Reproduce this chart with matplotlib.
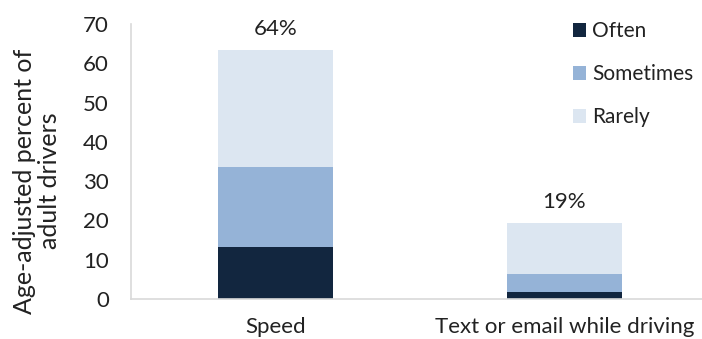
import matplotlib
matplotlib.use('Agg')
import matplotlib.pyplot as plt
import numpy as np

categories = ['Speed', 'Text or email while driving']
often = [13.2, 1.7]
sometimes = [20.5, 4.7]
rarely = [29.8, 12.9]
total_labels = ['64%', '19%']
series_names = ['Often', 'Sometimes', 'Rarely']
colors = ['#12263F', '#95B3D7', '#DCE6F1']

plt.rcParams['font.family'] = ['Lato', 'DejaVu Sans']
plt.rcParams['text.color'] = '#222222'

fig = plt.figure(figsize=(7.02, 3.39), dpi=100)
ax = fig.add_axes([131 / 702, 1 - 299 / 339, 578 / 702, 275 / 339])

x = np.arange(len(categories))
bottom = np.zeros(len(categories))
for vals, name, c in zip([often, sometimes, rarely], series_names, colors):
    ax.bar(x, vals, width=0.4, bottom=bottom, color=c, label=name)
    bottom += np.array(vals)

for xi, top, lab in zip(x, bottom, total_labels):
    ax.annotate(lab, (xi, top), xytext=(0, 15), textcoords='offset points',
                ha='center', va='center', fontsize=16)

ax.set_xlim(-0.5, 1.5)
ax.set_ylim(0, 70)
ax.set_yticks(range(0, 71, 10))
ax.set_xticks(x)
ax.set_xticklabels(categories)
ax.tick_params(axis='both', length=0, labelsize=16, colors='#222222')
ax.tick_params(axis='y', pad=16)
ax.tick_params(axis='x', pad=13)
for s in ['top', 'right']:
    ax.spines[s].set_visible(False)
for s in ['left', 'bottom']:
    ax.spines[s].set_color('#D9D9D9')
    ax.spines[s].set_linewidth(1.2)

fig.text(37 / 702, 1 - 181 / 339, 'Age-adjusted percent of\nadult drivers',
         rotation=90, ha='center', va='center', fontsize=18, linespacing=1.1)

ax.legend(loc='upper left', bbox_to_anchor=(563 / 702, 1 - 11 / 339),
          bbox_transform=fig.transFigure, frameon=False, fontsize=15,
          handlelength=0.6, handleheight=0.6, handletextpad=0.3,
          labelspacing=1.1, borderpad=0)

fig.savefig('out.png', dpi=100)
